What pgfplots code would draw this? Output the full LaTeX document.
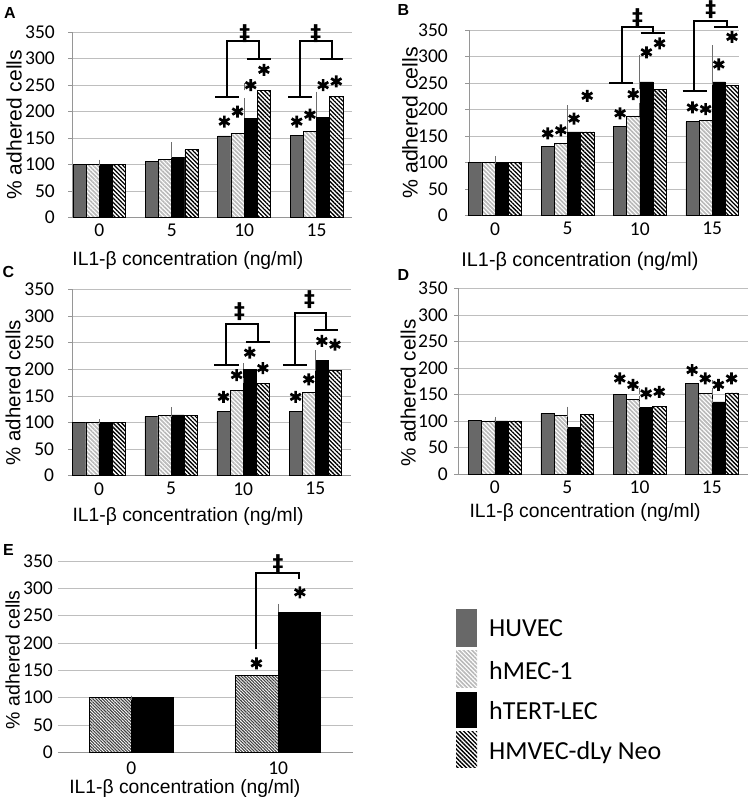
\documentclass[border=0pt]{standalone}
\usepackage{pgfplots}
\pgfplotsset{compat=1.18}
\usetikzlibrary{patterns.meta}
\usepackage{fontspec}
\setmainfont{Liberation Sans}
\newfontfamily\calfont{Carlito}
\newfontfamily\djfont{DejaVu Sans}
\definecolor{huvcol}{RGB}{104,104,104}
\definecolor{gridc}{RGB}{190,190,190}
\definecolor{axc}{RGB}{150,150,150}
\definecolor{errc}{RGB}{110,110,110}
\tikzset{
 hmecfill/.style={fill=white, postaction={pattern={Lines[angle=-45,distance=3pt,line width=1.6pt]}, pattern color=gray!55}},
 hmvfill/.style={fill=white, postaction={pattern={Lines[angle=-45,distance=3pt,line width=1.3pt]}, pattern color=black}},
 hmvEfill/.style={fill=white, postaction={pattern={Lines[angle=-45,distance=2.2pt,line width=1.1pt]}, pattern color=black!75}},
}
\pgfplotsset{
 panel/.style={
   scale only axis, anchor=south west,
   ymin=0, ymax=350, ytick={0,50,...,350},
   xtick={0,1,2,3}, xticklabels={0,5,10,15},
   ymajorgrids, grid style={gridc, line width=0.6pt},
   axis x line*=bottom, axis y line*=left,
   axis line style={axc, line width=0.6pt},
   tick align=outside, major tick length=4pt,
   ytick style={axc, line width=0.6pt},
   xtick style={draw=none},
   tick label style={font=\calfont\fontsize{19.5}{20}\selectfont},
   xticklabel style={inner sep=0pt, yshift=-2.5pt},
   /pgf/number format/assume math mode=true,
   clip=false,
   ylabel={\% adhered cells},
   xlabel={IL1-β concentration (ng/ml)},
   xlabel style={anchor=center, font=\fontsize{19.3}{20}\selectfont},
   ylabel style={anchor=center},
 },
 bw/.style={ybar, bar width=0.182, draw=black, line width=0.6pt,
   /pgfplots/error bars/y dir=plus, /pgfplots/error bars/y explicit,
   /pgfplots/error bars/error bar style={errc, line width=0.7pt},
   /pgfplots/error bars/error mark options={errc, mark size=2pt, line width=0.7pt}},
 ast/.style={only marks, mark=asterisk, mark size=6pt, mark options={black, line width=2.7pt}},
 brk/.style={black, line width=2pt, mark=none},
}
\newcommand{\dd}[2]{\node[inner sep=0pt, scale=1.45, font=\djfont\bfseries\fontsize{15}{15}\selectfont] at (axis cs:#1,#2) {‡};}
\begin{document}
\begin{tikzpicture}
\useasboundingbox (0,0) rectangle (750pt,802pt);

% ---------- A ----------
\begin{axis}[panel, at={(72pt,584.7pt)}, width=280pt, height=185pt,
  xmin=-0.378, xmax=3.49,
  yticklabel style={inner sep=0pt, xshift=-13pt},
  ylabel style={at={(axis description cs:-0.207,0.5)}, font=\fontsize{21}{21}\selectfont},
  xlabel style={at={(axis description cs:0.414,-0.236)}}]
\addplot[bw, bar shift=-0.273, fill=huvcol] coordinates {(0,100) +- (0,5.5) (1,105) +- (0,1) (2,154) +- (0,4) (3,155) +- (0,0.5)};
\addplot[bw, bar shift=-0.091, hmecfill] coordinates {(0,100) +- (0,1.5) (1,110) +- (0,13) (2,159) +- (0,17) (3,162) +- (0,8)};
\addplot[bw, bar shift=0.091, fill=black] coordinates {(0,100) +- (0,1.5) (1,113) +- (0,17) (2,187) +- (0,35) (3,189) +- (0,37)};
\addplot[bw, bar shift=0.273, hmvfill] coordinates {(0,100) +- (0,1.5) (1,129) +- (0,9) (2,240) +- (0,10) (3,229) +- (0,5)};
\addplot[ast] coordinates {(1.727,181) (1.909,200) (2.091,250) (2.273,279) (2.727,181) (2.909,194) (3.091,250) (3.273,257)};
\addplot[brk] coordinates {(1.603,228) (1.935,228)};
\addplot[brk] coordinates {(1.765,228) (1.765,333.5) (2.199,333.5) (2.199,299.5)};
\addplot[brk] coordinates {(2.037,299.5) (2.365,299.5)};
\addplot[brk] coordinates {(2.608,228) (2.94,228)};
\addplot[brk] coordinates {(2.77,228) (2.77,333.5) (3.208,333.5) (3.208,299.5)};
\addplot[brk] coordinates {(3.046,299.5) (3.37,299.5)};
\dd{2.01}{348}
\dd{2.99}{348}
\end{axis}

% ---------- B ----------
\begin{axis}[panel, at={(469pt,586.3pt)}, width=270pt, height=185.7pt,
  xmin=-0.36, xmax=3.37,
  yticklabel style={inner sep=0pt, xshift=-17pt},
  ylabel style={at={(axis description cs:-0.2185,0.5)}, font=\fontsize{21.3}{21}\selectfont},
  xlabel style={at={(axis description cs:0.411,-0.248)}, font=\fontsize{19.8}{20}\selectfont}]
\addplot[bw, bar shift=-0.273, fill=huvcol] coordinates {(0,100) +- (0,8) (1,131) +- (0,5) (2,169) +- (0,5) (3,177) +- (0,11)};
\addplot[bw, bar shift=-0.091, hmecfill] coordinates {(0,100) +- (0,6) (1,136) +- (0,3) (2,188) +- (0,20) (3,180) +- (0,2)};
\addplot[bw, bar shift=0.091, fill=black] coordinates {(0,100) +- (0,1) (1,158) +- (0,5) (2,252) +- (0,33) (3,252) +- (0,14)};
\addplot[bw, bar shift=0.273, hmvfill] coordinates {(0,100) +- (0,6) (1,158) +- (0,46) (2,238) +- (0,61) (3,246) +- (0,71)};
\addplot[ast] coordinates {(0.727,155) (0.909,161) (1.091,183) (1.273,226) (1.727,193) (1.909,229) (2.091,308) (2.273,325) (2.727,204) (2.909,201) (3.091,285) (3.273,337)};
\addplot[brk] coordinates {(1.58,249.5) (1.91,249.5)};
\addplot[brk] coordinates {(1.75,249.5) (1.75,355) (2.18,355) (2.18,345)};
\addplot[brk] coordinates {(2.01,345) (2.35,345)};
\addplot[brk] coordinates {(2.59,235.7) (2.93,235.7)};
\addplot[brk] coordinates {(2.755,235.7) (2.755,367.7) (3.2,367.7) (3.2,356.4)};
\addplot[brk] coordinates {(3.03,356.4) (3.36,356.4)};
\dd{1.97}{373}
\dd{2.98}{388}
\end{axis}

% ---------- C ----------
\begin{axis}[panel, at={(72pt,326.3pt)}, width=279pt, height=186.4pt,
  xmin=-0.374, xmax=3.495,
  yticklabel style={inner sep=0pt, xshift=-13.7pt},
  ylabel style={at={(axis description cs:-0.2115,0.446)}, font=\fontsize{20.4}{21}\selectfont},
  xlabel style={at={(axis description cs:0.416,-0.22)}}]
\addplot[bw, bar shift=-0.273, fill=huvcol] coordinates {(0,100) +- (0,1) (1,111) +- (0,6) (2,121) +- (0,4) (3,121) +- (0,4)};
\addplot[bw, bar shift=-0.091, hmecfill] coordinates {(0,100) +- (0,1) (1,113) +- (0,12) (2,160) +- (0,0.5) (3,157) +- (0,4)};
\addplot[bw, bar shift=0.091, fill=black] coordinates {(0,100) +- (0,1) (1,114) +- (0,0.5) (2,200) +- (0,7) (3,217) +- (0,15)};
\addplot[bw, bar shift=0.273, hmvfill] coordinates {(0,100) +- (0,2) (1,113) +- (0,0.5) (2,174) +- (0,5) (3,197) +- (0,28)};
\addplot[ast] coordinates {(1.727,148) (1.909,189) (2.091,231) (2.273,202) (2.727,148) (2.909,181) (3.091,253) (3.273,246)};
\addplot[brk] coordinates {(1.6,207.9) (1.935,207.9)};
\addplot[brk] coordinates {(1.764,207.9) (1.764,284.9) (2.203,284.9) (2.203,251.7)};
\addplot[brk] coordinates {(2.037,251.7) (2.365,251.7)};
\addplot[brk] coordinates {(2.55,207.9) (2.884,207.9)};
\addplot[brk] coordinates {(2.713,207.9) (2.713,305) (3.153,305) (3.153,273.6)};
\addplot[brk] coordinates {(2.986,273.6) (3.314,273.6)};
\dd{1.95}{308}
\dd{2.92}{330}
\end{axis}

% ---------- D ----------
\begin{axis}[panel, at={(458pt,328pt)}, width=290pt, height=185.7pt,
  xmin=-0.51, xmax=3.50,
  yticklabel style={inner sep=0pt, xshift=-6pt},
  ylabel style={at={(axis description cs:-0.172,0.435)}, font=\fontsize{20.7}{21}\selectfont},
  xlabel style={at={(axis description cs:0.438,-0.21)}}]
\addplot[bw, bar shift=-0.273, fill=huvcol] coordinates {(0,101) +- (0,3) (1,114) +- (0,5) (2,150) +- (0,8) (3,171) +- (0,3)};
\addplot[bw, bar shift=-0.091, hmecfill] coordinates {(0,100) +- (0,1) (1,111) +- (0,1) (2,141) +- (0,2) (3,152) +- (0,1)};
\addplot[bw, bar shift=0.091, fill=black] coordinates {(0,100) +- (0,1) (1,88) +- (0,1) (2,125) +- (0,4) (3,136) +- (0,1)};
\addplot[bw, bar shift=0.273, hmvfill] coordinates {(0,100) +- (0,2) (1,113) +- (0,10) (2,128) +- (0,5) (3,153) +- (0,5)};
\addplot[ast] coordinates {(1.727,180) (1.909,168) (2.091,152) (2.273,155) (2.727,196) (2.909,180) (3.091,168) (3.273,180)};
\end{axis}

% ---------- E ----------
\begin{axis}[panel, at={(58pt,49.7pt)}, width=295pt, height=191.3pt,
  xmin=-0.5, xmax=1.51, xtick={0,1}, xticklabels={0,10},
  y axis line style={draw=none}, ytick style={draw=none},
  yticklabel style={inner sep=0pt, xshift=-1pt},
  xticklabel style={yshift=-3pt},
  ylabel style={at={(axis description cs:-0.154,0.484)}, font=\fontsize{19.5}{20}\selectfont},
  xlabel style={at={(axis description cs:0.43,-0.19)}}]
\addplot[bw, bar width=0.2886, bar shift=-0.1443, hmvEfill] coordinates {(0,100) +- (0,0) (1,140) +- (0,0)};
\addplot[bw, bar width=0.2886, bar shift=0.1443, fill=black] coordinates {(0,100) +- (0,0) (1,256) +- (0,12)};
\addplot[ast] coordinates {(0.852,162.8) (1.148,292.7)};
\addplot[brk] coordinates {(0.848,188.4) (0.848,328.7) (1.143,328.7) (1.143,316.5)};
\dd{1.0}{346}
\end{axis}

% ---------- panel letters ----------
\begin{scope}[every node/.style={font=\bfseries\fontsize{16}{16}\selectfont}]
\node at (10pt,788.5pt) {A};
\node at (403.5pt,791.5pt) {B};
\node at (8.5pt,529.5pt) {C};
\node at (403.5pt,526.5pt) {D};
\node at (8.5pt,252pt) {E};
\end{scope}

% ---------- legend ----------
\fill[huvcol] (456pt,155pt) rectangle (477pt,193pt);
\path[hmecfill] (456pt,114pt) rectangle (477pt,151pt);
\fill[black] (456pt,74pt) rectangle (477pt,110pt);
\path[hmvfill] (456pt,34pt) rectangle (477pt,70pt);
\begin{scope}[every node/.style={anchor=base west, inner sep=0pt, font=\calfont\fontsize{26}{26}\selectfont}]
\node at (489pt,165.3pt) {HUVEC};
\node at (489pt,122pt) {hMEC-1};
\node at (489pt,82pt) {hTERT-LEC};
\node at (489pt,42pt) {HMVEC-dLy Neo};
\end{scope}
\end{tikzpicture}
\end{document}
